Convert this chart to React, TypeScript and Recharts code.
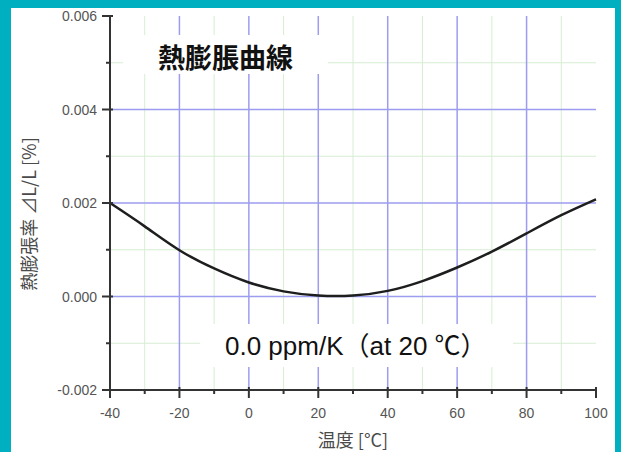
import React from 'react';
import { LineChart, Line, XAxis, YAxis, ReferenceLine } from 'recharts';

// temperature [°C] and thermal expansion [%]
const temps = [-40, -30, -20, -10, 0, 10, 20, 30, 40, 50, 60, 70, 80, 90, 100];
const expansion = [0.002, 0.0015, 0.00099, 0.0006, 0.0003, 0.00011, 0.00002, 0.00002, 0.00012, 0.00033, 0.00062, 0.00096, 0.00135, 0.00174, 0.00208];

const xTicks = [-40, -30, -20, -10, 0, 10, 20, 30, 40, 50, 60, 70, 80, 90, 100];
const xMajor = [-40, -20, 0, 20, 40, 60, 80, 100];
const xGridMajor = [-20, 0, 20, 40, 60, 80];
const xGridMinor = [-30, -10, 10, 30, 50, 70, 90];

const yTicks = [-0.002, -0.001, 0, 0.001, 0.002, 0.003, 0.004, 0.005, 0.006];
const yGridMajor = [0, 0.002, 0.004];
const yGridMinor = [-0.001, 0.001, 0.003, 0.005];

const data = temps.map((t, i) => ({ t, v: expansion[i] }));

const LATIN = '"Liberation Sans", Arial, "Noto Sans CJK JP", sans-serif';
const CJK = '"Noto Sans CJK JP", "Liberation Sans", sans-serif';

const isMajorY = (v: number) => Math.round(v * 1000) % 2 === 0;

const XTick = ({ x, y, payload }: any) => {
  const major = xMajor.includes(payload.value);
  return (
    <g>
      <line x1={x} y1={y - (major ? 3 : 0)} x2={x} y2={y + (major ? 8 : 4)} stroke="#333" strokeWidth={2} />
      {major && (
        <text x={x} y={y + 28} textAnchor="middle" fill="#555" fontSize={14} fontFamily={LATIN}>
          {payload.value}
        </text>
      )}
    </g>
  );
};

const YTick = ({ x, y, payload }: any) => {
  const major = isMajorY(payload.value);
  return (
    <g>
      <line x1={x + (major ? 3 : 0)} y1={y} x2={x - (major ? 8 : 4)} y2={y} stroke="#333" strokeWidth={2} />
      {major && (
        <text x={x - 13} y={y + 5} textAnchor="end" fill="#555" fontSize={14} fontFamily={LATIN}>
          {payload.value.toFixed(3)}
        </text>
      )}
    </g>
  );
};

const YLabel = ({ viewBox }: any) => {
  const cx = viewBox.x - 22;
  const cy = viewBox.y + viewBox.height / 2 + 11;
  return (
    <text x={cx} y={cy} transform={`rotate(-90, ${cx}, ${cy})`} textAnchor="middle" dominantBaseline="central" fill="#4a4a4a" fontSize={18} fontFamily={CJK}>
      熱膨張率 ⊿L/L [%]
    </text>
  );
};

const XLabel = ({ viewBox }: any) => {
  const cx = viewBox.x + viewBox.width / 2;
  return (
    <text x={cx} y={viewBox.y + 57} textAnchor="middle" fill="#4a4a4a" fontSize={18} fontFamily={CJK}>
      温度 [°C]
    </text>
  );
};

export default function App() {
  return (
    <div style={{ position: 'absolute', left: 0, top: 0, width: 621, height: 452, background: '#00b0c0', overflow: 'hidden' }}>
      <div style={{ position: 'absolute', left: 11, top: 8, width: 604, height: 444, background: '#fff' }} />
      <div style={{ position: 'absolute', left: 0, top: 0 }}>
        <LineChart width={621} height={452} data={data} margin={{ top: 16, right: 25, bottom: 32, left: 50 }}>
          <XAxis
            xAxisId="x"
            dataKey="t"
            type="number"
            domain={[-40, 100]}
            ticks={xTicks}
            interval={0}
            height={30}
            tickSize={0}
            tickMargin={0}
            tickLine={false}
            tick={<XTick />}
            axisLine={{ stroke: '#333', strokeWidth: 2 }}
            label={<XLabel />}
          />
          <XAxis xAxisId="xt" orientation="top" type="number" domain={[-40, 100]} height={0} tick={false} tickLine={false} axisLine={{ stroke: '#666', strokeWidth: 2 }} />
          <YAxis
            yAxisId="y"
            type="number"
            domain={[-0.002, 0.006]}
            ticks={yTicks}
            interval={0}
            width={60}
            tickSize={0}
            tickMargin={0}
            tickLine={false}
            tick={<YTick />}
            axisLine={{ stroke: '#333', strokeWidth: 2 }}
            label={<YLabel />}
          />
          <YAxis yAxisId="yr" orientation="right" type="number" domain={[-0.002, 0.006]} width={0} tick={false} tickLine={false} axisLine={{ stroke: '#666', strokeWidth: 2 }} />

          {xGridMinor.map((v) => (
            <ReferenceLine key={'xm' + v} xAxisId="x" yAxisId="y" x={v} stroke="#d6eed2" strokeWidth={1} />
          ))}
          {yGridMinor.map((v) => (
            <ReferenceLine key={'ym' + v} xAxisId="x" yAxisId="y" y={v} stroke="#d6eed2" strokeWidth={1} />
          ))}
          {xGridMajor.map((v) => (
            <ReferenceLine key={'xM' + v} xAxisId="x" yAxisId="y" x={v} stroke="#9c9cf0" strokeWidth={1.5} />
          ))}
          {yGridMajor.map((v) => (
            <ReferenceLine key={'yM' + v} xAxisId="x" yAxisId="y" y={v} stroke="#9c9cf0" strokeWidth={1.5} />
          ))}

          <Line xAxisId="x" yAxisId="y" type="natural" dataKey="v" stroke="#1e1e1e" strokeWidth={2.5} dot={false} isAnimationActive={false} />
        </LineChart>
      </div>
      <div style={{ position: 'absolute', left: 123, top: 35, width: 205, height: 39, background: '#fff', textAlign: 'center', fontFamily: CJK, fontSize: 27, fontWeight: 600, lineHeight: '44px', color: '#111' }}>
        熱膨脹曲線
      </div>
      <div style={{ position: 'absolute', left: 200, top: 324, width: 313, height: 43, background: '#fff', boxSizing: 'border-box', paddingLeft: 25, fontFamily: LATIN, fontSize: 26, lineHeight: '44px', color: '#111', whiteSpace: 'nowrap' }}>
        0.0 ppm/K（at 20 ℃）
      </div>
    </div>
  );
}
